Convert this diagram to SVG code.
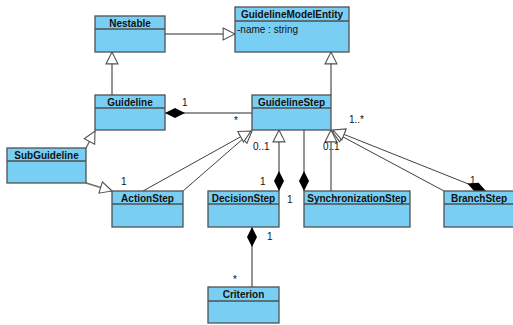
<svg xmlns="http://www.w3.org/2000/svg" width="513" height="325" viewBox="0 0 513 325">
<style>
.box{fill:#79CEF3;stroke:#505050;stroke-width:1.3}
.div{stroke:#505050;stroke-width:1.3}
.nm{font-family:"Liberation Sans",Arial,sans-serif;font-size:10px;font-weight:bold;fill:#111;text-anchor:middle}
.at{font-family:"Liberation Sans",Arial,sans-serif;font-size:10px;fill:#111}
.lb{font-family:"Liberation Sans",Arial,sans-serif;font-size:10px;fill:#111}
.c{fill:none;stroke:#707070;stroke-width:1.5}
.t{fill:none;stroke:#404040;stroke-width:1}
</style>
<defs>
<marker id="tri" markerUnits="userSpaceOnUse" markerWidth="14" markerHeight="14" viewBox="-1 -1 13 13" refX="11" refY="5.5" orient="auto">
<path d="M0,0 L11,5.5 L0,11 Z" fill="#fff" stroke="#505050" stroke-width="1"/>
</marker>
<marker id="dia" markerUnits="userSpaceOnUse" markerWidth="22" markerHeight="12" viewBox="0 -1 21 12" refX="0" refY="5" orient="auto">
<path d="M0,5 L10,0 L20,5 L10,10 Z" fill="#000"/>
</marker>
</defs>

<g id="connectors">
<path class="c" d="M165,34 H235" marker-end="url(#tri)"/>
<path class="c" d="M112,95 V52" marker-end="url(#tri)"/>
<path class="c" d="M331,95 V52" marker-end="url(#tri)"/>
<path class="c" d="M165,113 H252" marker-start="url(#dia)"/>
<path class="c" d="M86,148 L95,131" marker-end="url(#tri)"/>
<path class="c" d="M86,183 L112,191" marker-end="url(#tri)"/>
<path class="t" d="M183,191 L252,131" marker-end="url(#tri)"/>
<path class="t" d="M143,191 L251,131" marker-end="url(#tri)"/>
<path class="c" d="M279,191 V130" marker-start="url(#dia)" marker-end="url(#tri)"/>
<path class="c" d="M304,191 V130" marker-start="url(#dia)"/>
<path class="c" d="M331,191 V130" marker-end="url(#tri)"/>
<path class="t" d="M444,191 L332,131" marker-end="url(#tri)"/>
<path class="t" d="M486,191 L333,130" marker-start="url(#dia)" marker-end="url(#tri)"/>
<path class="c" d="M252,227 V287" marker-start="url(#dia)"/>
</g>

<g id="labels">
<text class="lb" x="182" y="106">1</text>
<text class="lb" x="234" y="124">*</text>
<text class="lb" x="349" y="123">1..*</text>
<text class="lb" x="253" y="150">0..1</text>
<text class="lb" x="323" y="150">0..1</text>
<text class="lb" x="121" y="185">1</text>
<text class="lb" x="260" y="185">1</text>
<text class="lb" x="287" y="203">1</text>
<text class="lb" x="470" y="184">1</text>
<text class="lb" x="267" y="240">1</text>
<text class="lb" x="233" y="283">*</text>
</g>

<g id="Nestable">
<rect class="box" x="95" y="16" width="70" height="36"/>
<line class="div" x1="95" y1="29" x2="165" y2="29"/>
<text class="nm" x="130" y="27">Nestable</text>
</g>

<g id="GuidelineModelEntity">
<rect class="box" x="235" y="7" width="114" height="45"/>
<line class="div" x1="235" y1="21" x2="349" y2="21"/>
<text class="nm" x="292" y="18">GuidelineModelEntity</text>
<text class="at" x="237" y="33">-name : string</text>
</g>

<g id="Guideline">
<rect class="box" x="95" y="95" width="70" height="35"/>
<line class="div" x1="95" y1="108" x2="165" y2="108"/>
<text class="nm" x="130" y="106">Guideline</text>
</g>

<g id="GuidelineStep">
<rect class="box" x="252" y="95" width="79" height="35"/>
<line class="div" x1="252" y1="108" x2="331" y2="108"/>
<text class="nm" x="291.5" y="106">GuidelineStep</text>
</g>

<g id="SubGuideline">
<rect class="box" x="7" y="148" width="79" height="35"/>
<line class="div" x1="7" y1="161" x2="86" y2="161"/>
<text class="nm" x="46.5" y="159">SubGuideline</text>
</g>

<g id="ActionStep">
<rect class="box" x="112" y="191" width="71" height="36"/>
<line class="div" x1="112" y1="204" x2="183" y2="204"/>
<text class="nm" x="147.5" y="202">ActionStep</text>
</g>

<g id="DecisionStep">
<rect class="box" x="208" y="191" width="71" height="36"/>
<line class="div" x1="208" y1="204" x2="279" y2="204"/>
<text class="nm" x="243.5" y="202">DecisionStep</text>
</g>

<g id="SynchronizationStep">
<rect class="box" x="304" y="191" width="106" height="36"/>
<line class="div" x1="304" y1="204" x2="410" y2="204"/>
<text class="nm" x="357" y="202">SynchronizationStep</text>
</g>

<g id="BranchStep">
<rect class="box" x="444" y="191" width="72" height="36"/>
<line class="div" x1="444" y1="204" x2="516" y2="204"/>
<text class="nm" x="479" y="202">BranchStep</text>
</g>

<g id="Criterion">
<rect class="box" x="208" y="287" width="71" height="36"/>
<line class="div" x1="208" y1="301" x2="279" y2="301"/>
<text class="nm" x="243.5" y="298">Criterion</text>
</g>
</svg>
